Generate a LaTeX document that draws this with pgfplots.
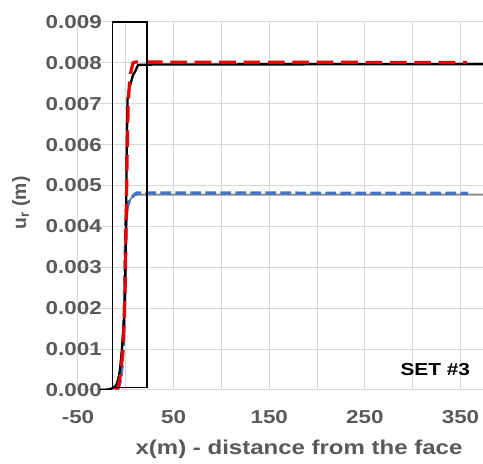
\documentclass[border=0pt]{standalone}
\usepackage{fontspec}
\setmainfont[FakeStretch=1.2]{Liberation Sans}
\newfontfamily\ylabfont{Liberation Sans}
\usepackage{pgfplots}
\pgfplotsset{compat=1.18}

\definecolor{txtgray}{RGB}{89,89,89}
\definecolor{gridgray}{RGB}{217,217,217}
\definecolor{exred}{RGB}{232,0,0}
\definecolor{exblue}{RGB}{68,114,196}
\definecolor{exgray}{RGB}{140,140,140}

\begin{document}
\begin{tikzpicture}
\begin{axis}[
    scale only axis,
    width=303.75pt, height=276pt,
    xmin=-50, xmax=373.5,
    ymin=0, ymax=0.009,
    xtick={-50,50,150,250,350},
    minor xtick={0,100,200,300},
    ytick={0,0.001,0.002,0.003,0.004,0.005,0.006,0.007,0.008,0.009},
    scaled y ticks=false,
    /pgf/number format/assume math mode=true,
    y tick label style={/pgf/number format/.cd, fixed, fixed zerofill, precision=3, /tikz/.cd},
    tick label style={font=\fontsize{14}{16}\selectfont\bfseries, text=txtgray, inner sep=0pt},
    yticklabel style={anchor=east, xshift=18pt},
    xticklabel style={anchor=center, yshift=-20.25pt},
    major tick length=0pt, minor tick length=0pt,
    grid=both,
    major grid style={draw=gridgray, line width=0.75pt},
    minor grid style={draw=gridgray, line width=0.75pt},
    axis line style={draw=none},
    xlabel={x(m) - distance from the face},
    xlabel style={at={(axis description cs:0.5457,-0.1603)}, anchor=center,
        font=\fontsize{15}{17}\selectfont\bfseries, text=txtgray, inner sep=0pt},
    ylabel={u\textsubscript{r} (m)},
    ylabel style={at={(axis description cs:-0.1407,0.508)}, anchor=center,
        font=\ylabfont\fontsize{14.5}{16}\selectfont\bfseries, text=txtgray, inner sep=0pt},
]

% second case (gray solid, blue dashed), drawn first so it sits underneath
\addplot[exgray, line width=1.5pt] coordinates {
    (-27,0) (-18,0.00001) (-13,0.00005) (-10,0.00012) (-8,0.00025) (-6,0.0005)
    (-4,0.001) (-2,0.0017) (-0.8,0.0023) (0,0.0036) (1,0.0042) (2.5,0.0045)
    (4.5,0.00465) (7,0.00473) (10,0.00477) (15,0.00478) (373.5,0.00478)
};
\addplot[exblue, line width=2.4pt, dash pattern=on 8pt off 3.25pt] coordinates {
    (-9,0) (-7,0.0001) (-5,0.0003) (-3.5,0.0007) (-2.2,0.0014) (-1.2,0.0025)
    (-0.2,0.0040) (0.8,0.0044) (2.6,0.00457) (4.5,0.00466) (6.2,0.00470)
    (8.5,0.00477) (11.4,0.00482) (20,0.00482) (358,0.00481)
};

% total displacement, numerical (black) and analytical (red dashed)
\addplot[black, line width=1.75pt] coordinates {
    (-27,0) (-18,0.00001) (-13,0.00005) (-10,0.00012) (-8,0.00025) (-6,0.0005)
    (-4,0.001) (-2,0.0017) (-0.8,0.0023) (0.2,0.0040) (1,0.0060) (1.8,0.0071)
    (3,0.0073) (5,0.0075) (7.5,0.0077) (10,0.0078) (12.8,0.00795) (30,0.00796)
    (373.5,0.00797)
};
\addplot[exred, line width=2.4pt, dash pattern=on 12.5pt off 5.8pt] coordinates {
    (-10.5,0) (-8,0.0001) (-6,0.0003) (-4.5,0.0006) (-3,0.001) (-1.5,0.0018)
    (-0.5,0.0028) (0.3,0.0040) (1.2,0.0055) (2.5,0.0070) (3.8,0.0075)
    (5.5,0.0078) (7.5,0.0080) (10,0.00802) (357,0.00801)
};

\draw[black, line width=1pt] (axis cs:-14,0.000056) rectangle (axis cs:22,0.009);
\node[font=\fontsize{13}{15}\selectfont\bfseries, text=black] at (axis cs:323.6,0.00049) {SET \#3};

\coordinate (bl) at (rel axis cs:0,0);
\coordinate (tr) at (rel axis cs:1,1);
\end{axis}
\pgfresetboundingbox
\path ([xshift=-58.5pt,yshift=-55.5pt]bl) rectangle ([yshift=16.5pt]tr);
\end{tikzpicture}
\end{document}
